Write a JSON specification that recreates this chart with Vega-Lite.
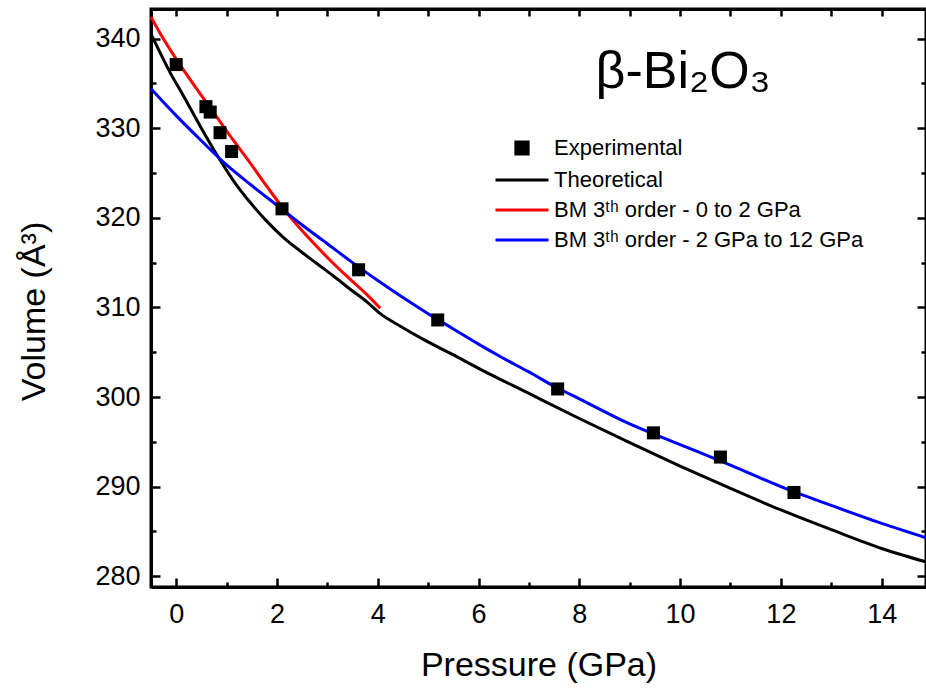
{
  "$schema": "https://vega.github.io/schema/vega-lite/v6.json",
  "width": 775,
  "height": 578,
  "autosize": {"type": "none"},
  "padding": {"left": 151, "top": 9, "right": 0, "bottom": 108},
  "background": "white",
  "config": {
    "view": {"stroke": "black", "strokeWidth": 3},
    "font": "Liberation Sans",
    "axis": {"grid": false, "tickColor": "black", "domainColor": "black", "labelColor": "black", "titleColor": "black", "titleFontWeight": "normal", "labelFont": "Liberation Sans", "titleFont": "Liberation Sans"}
  },
  "datasets": {
    "curves": [
      {"series": "Theoretical", "P": -0.5, "V": 340.5},
      {"series": "Theoretical", "P": -0.3, "V": 338.2},
      {"series": "Theoretical", "P": -0.12, "V": 336.2},
      {"series": "Theoretical", "P": 0.145, "V": 333.6},
      {"series": "Theoretical", "P": 0.48, "V": 330.2},
      {"series": "Theoretical", "P": 0.81, "V": 327.0},
      {"series": "Theoretical", "P": 1.14, "V": 324.1},
      {"series": "Theoretical", "P": 1.47, "V": 321.7},
      {"series": "Theoretical", "P": 1.8, "V": 319.6},
      {"series": "Theoretical", "P": 2.13, "V": 317.8},
      {"series": "Theoretical", "P": 2.46, "V": 316.3},
      {"series": "Theoretical", "P": 2.79, "V": 314.9},
      {"series": "Theoretical", "P": 3.12, "V": 313.5},
      {"series": "Theoretical", "P": 3.46, "V": 312.0},
      {"series": "Theoretical", "P": 3.79, "V": 310.6},
      {"series": "Theoretical", "P": 4.05, "V": 309.3},
      {"series": "Theoretical", "P": 4.45, "V": 307.9},
      {"series": "Theoretical", "P": 4.85, "V": 306.6},
      {"series": "Theoretical", "P": 5.5, "V": 304.7},
      {"series": "Theoretical", "P": 6.0, "V": 303.2},
      {"series": "Theoretical", "P": 7.0, "V": 300.4},
      {"series": "Theoretical", "P": 8.0, "V": 297.6},
      {"series": "Theoretical", "P": 9.0, "V": 294.9},
      {"series": "Theoretical", "P": 10.0, "V": 292.3},
      {"series": "Theoretical", "P": 11.0, "V": 289.8},
      {"series": "Theoretical", "P": 12.0, "V": 287.4},
      {"series": "Theoretical", "P": 13.0, "V": 285.2},
      {"series": "Theoretical", "P": 14.0, "V": 283.1},
      {"series": "Theoretical", "P": 14.88, "V": 281.6},
      {"series": "BM 3ᵗʰ order - 0 to 2 GPa", "P": -0.5, "V": 342.4},
      {"series": "BM 3ᵗʰ order - 0 to 2 GPa", "P": -0.32, "V": 340.6},
      {"series": "BM 3ᵗʰ order - 0 to 2 GPa", "P": 0.145, "V": 336.5},
      {"series": "BM 3ᵗʰ order - 0 to 2 GPa", "P": 0.48, "V": 333.8},
      {"series": "BM 3ᵗʰ order - 0 to 2 GPa", "P": 0.81, "V": 331.2},
      {"series": "BM 3ᵗʰ order - 0 to 2 GPa", "P": 1.14, "V": 328.6},
      {"series": "BM 3ᵗʰ order - 0 to 2 GPa", "P": 1.47, "V": 326.1},
      {"series": "BM 3ᵗʰ order - 0 to 2 GPa", "P": 1.8, "V": 323.5},
      {"series": "BM 3ᵗʰ order - 0 to 2 GPa", "P": 2.13, "V": 321.0},
      {"series": "BM 3ᵗʰ order - 0 to 2 GPa", "P": 2.46, "V": 318.8},
      {"series": "BM 3ᵗʰ order - 0 to 2 GPa", "P": 2.79, "V": 316.8},
      {"series": "BM 3ᵗʰ order - 0 to 2 GPa", "P": 3.12, "V": 314.9},
      {"series": "BM 3ᵗʰ order - 0 to 2 GPa", "P": 3.46, "V": 313.1},
      {"series": "BM 3ᵗʰ order - 0 to 2 GPa", "P": 3.79, "V": 311.4},
      {"series": "BM 3ᵗʰ order - 0 to 2 GPa", "P": 4.05, "V": 309.9},
      {"series": "BM 3ᵗʰ order - 2 GPa to 12 GPa", "P": -0.5, "V": 334.4},
      {"series": "BM 3ᵗʰ order - 2 GPa to 12 GPa", "P": 0.0, "V": 331.4},
      {"series": "BM 3ᵗʰ order - 2 GPa to 12 GPa", "P": 0.5, "V": 328.6},
      {"series": "BM 3ᵗʰ order - 2 GPa to 12 GPa", "P": 1.0, "V": 325.9},
      {"series": "BM 3ᵗʰ order - 2 GPa to 12 GPa", "P": 1.5, "V": 323.6},
      {"series": "BM 3ᵗʰ order - 2 GPa to 12 GPa", "P": 2.0, "V": 321.4},
      {"series": "BM 3ᵗʰ order - 2 GPa to 12 GPa", "P": 2.5, "V": 319.2},
      {"series": "BM 3ᵗʰ order - 2 GPa to 12 GPa", "P": 3.0, "V": 317.1},
      {"series": "BM 3ᵗʰ order - 2 GPa to 12 GPa", "P": 3.5, "V": 315.0},
      {"series": "BM 3ᵗʰ order - 2 GPa to 12 GPa", "P": 4.0, "V": 313.0},
      {"series": "BM 3ᵗʰ order - 2 GPa to 12 GPa", "P": 4.5, "V": 311.1},
      {"series": "BM 3ᵗʰ order - 2 GPa to 12 GPa", "P": 5.0, "V": 309.3},
      {"series": "BM 3ᵗʰ order - 2 GPa to 12 GPa", "P": 5.5, "V": 307.6},
      {"series": "BM 3ᵗʰ order - 2 GPa to 12 GPa", "P": 6.0, "V": 305.9},
      {"series": "BM 3ᵗʰ order - 2 GPa to 12 GPa", "P": 6.5, "V": 304.3},
      {"series": "BM 3ᵗʰ order - 2 GPa to 12 GPa", "P": 7.0, "V": 302.8},
      {"series": "BM 3ᵗʰ order - 2 GPa to 12 GPa", "P": 7.5, "V": 301.2},
      {"series": "BM 3ᵗʰ order - 2 GPa to 12 GPa", "P": 8.0, "V": 299.8},
      {"series": "BM 3ᵗʰ order - 2 GPa to 12 GPa", "P": 9.0, "V": 297.0},
      {"series": "BM 3ᵗʰ order - 2 GPa to 12 GPa", "P": 10.0, "V": 294.7},
      {"series": "BM 3ᵗʰ order - 2 GPa to 12 GPa", "P": 11.0, "V": 292.4},
      {"series": "BM 3ᵗʰ order - 2 GPa to 12 GPa", "P": 12.0, "V": 290.0},
      {"series": "BM 3ᵗʰ order - 2 GPa to 12 GPa", "P": 13.0, "V": 287.9},
      {"series": "BM 3ᵗʰ order - 2 GPa to 12 GPa", "P": 14.0, "V": 285.9},
      {"series": "BM 3ᵗʰ order - 2 GPa to 12 GPa", "P": 14.88, "V": 284.3}
    ],
    "exp": [
      {"series": "Experimental", "P": 0.0, "V": 337.1},
      {"series": "Experimental", "P": 0.59, "V": 332.4},
      {"series": "Experimental", "P": 0.675, "V": 331.8},
      {"series": "Experimental", "P": 0.87, "V": 329.5},
      {"series": "Experimental", "P": 1.1, "V": 327.4},
      {"series": "Experimental", "P": 2.1, "V": 321.0},
      {"series": "Experimental", "P": 3.62, "V": 314.2},
      {"series": "Experimental", "P": 5.19, "V": 308.6},
      {"series": "Experimental", "P": 7.57, "V": 300.9},
      {"series": "Experimental", "P": 9.47, "V": 296.0},
      {"series": "Experimental", "P": 10.8, "V": 293.3},
      {"series": "Experimental", "P": 12.26, "V": 289.35}
    ],
    "label": [
      {"text": "β-Bi₂O₃", "P": 10.06, "V": 334.5}
    ]
  },
  "layer": [
    {
      "data": {"name": "curves"},
      "mark": {"type": "line", "strokeWidth": 3, "interpolate": "monotone"},
      "encoding": {
        "x": {
          "field": "P", "type": "quantitative",
          "scale": {"domain": [-0.5, 14.88], "nice": false, "zero": false},
          "axis": {
            "orient": "bottom",
            "values": [0, 1, 2, 3, 4, 5, 6, 7, 8, 9, 10, 11, 12, 13, 14],
            "tickSize": {"condition": {"test": "datum.value % 2 === 0", "value": -9}, "value": -5},
            "tickWidth": 2.5,
            "domainWidth": 3,
            "labelExpr": "datum.value % 2 === 0 ? datum.label : ''",
            "labelFontSize": 27,
            "labelPadding": 23,
            "labelFlush": false,
            "labelOverlap": false,
            "title": "Pressure (GPa)",
            "titleFontSize": 34,
            "titlePadding": 17
          }
        },
        "y": {
          "field": "V", "type": "quantitative",
          "scale": {"domain": [278.8, 343.3], "nice": false, "zero": false},
          "axis": {
            "orient": "left",
            "values": [280, 285, 290, 295, 300, 305, 310, 315, 320, 325, 330, 335, 340],
            "tickSize": {"condition": {"test": "datum.value % 10 === 0", "value": -9}, "value": -5},
            "tickWidth": 2.5,
            "domainWidth": 3,
            "labelExpr": "datum.value % 10 === 0 ? datum.label : ''",
            "labelFontSize": 27,
            "labelPadding": 20,
            "labelFlush": false,
            "labelOverlap": false,
            "title": "Volume (Å³)",
            "titleFontSize": 34,
            "titlePadding": 43,
            "titleY": 302
          }
        },
        "color": {
          "field": "series", "type": "nominal",
          "scale": {
            "domain": ["Experimental", "Theoretical", "BM 3ᵗʰ order - 0 to 2 GPa", "BM 3ᵗʰ order - 2 GPa to 12 GPa"],
            "range": ["black", "black", "#ff0000", "#0000ff"]
          },
          "legend": {
            "orient": "none",
            "legendX": 360,
            "legendY": 128,
            "title": null,
            "symbolSize": 150,
            "symbolStrokeWidth": 3,
            "labelFontSize": 22,
            "labelFont": "Liberation Sans",
            "labelColor": "black",
            "labelOffset": 21,
            "labelLimit": 600,
            "rowPadding": 8,
            "encode": {
              "symbols": {
                "update": {
                  "shape": {"signal": "datum.value === 'Experimental' ? 'square' : 'M-4.33,0H4.33'"},
                  "size": {"value": 150},
                  "fill": {"signal": "datum.value === 'Experimental' ? 'black' : 'transparent'"},
                  "stroke": {"signal": "datum.value === 'Experimental' ? 'transparent' : scale('color', datum.value)"},
                  "strokeWidth": {"value": 3},
                  "opacity": {"value": 1}
                }
              }
            }
          }
        }
      }
    },
    {
      "data": {"name": "exp"},
      "mark": {"type": "point", "shape": "square", "filled": true, "size": 170, "opacity": 1},
      "encoding": {
        "x": {"field": "P", "type": "quantitative", "axis": null},
        "y": {"field": "V", "type": "quantitative", "axis": null},
        "color": {"field": "series", "type": "nominal"}
      }
    },
    {
      "data": {"name": "label"},
      "mark": {"type": "text", "fontSize": 52, "font": "Liberation Sans", "align": "center", "baseline": "alphabetic", "color": "black"},
      "encoding": {
        "x": {
          "field": "P", "type": "quantitative",
          "axis": {
            "orient": "top",
            "values": [0, 1, 2, 3, 4, 5, 6, 7, 8, 9, 10, 11, 12, 13, 14],
            "tickSize": -7,
            "tickWidth": 2.5,
            "tickColor": "#010101",
            "domain": true,
            "ticks": true,
            "domainWidth": 3,
            "domainColor": "#010101",
            "labels": true,
            "labelColor": "transparent",
            "labelFontSize": 10,
            "title": null
          }
        },
        "y": {
          "field": "V", "type": "quantitative",
          "axis": {
            "orient": "right",
            "values": [280, 285, 290, 295, 300, 305, 310, 315, 320, 325, 330, 335, 340],
            "tickSize": {"condition": {"test": "datum.value % 10 === 0", "value": -9}, "value": -5},
            "tickWidth": 2.5,
            "domain": false,
            "labels": false,
            "title": null
          }
        },
        "text": {"field": "text"}
      }
    }
  ],
  "resolve": {"axis": {"x": "independent", "y": "independent"}}
}
